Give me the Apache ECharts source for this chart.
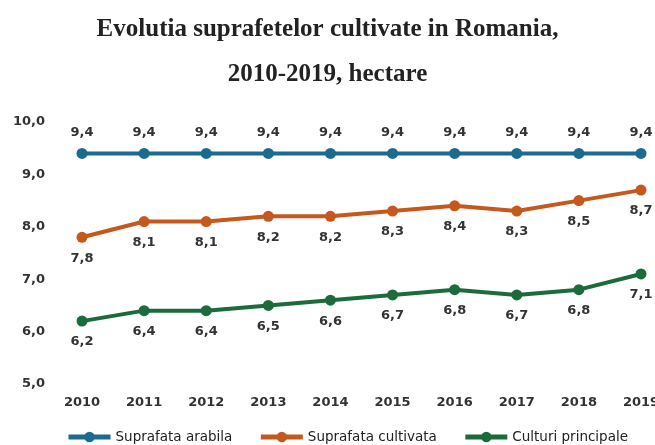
<!DOCTYPE html>
<html lang="ro">
<head>
<meta charset="UTF-8">
<title>Evolutia suprafetelor cultivate</title>
<script src="https://cdn.jsdelivr.net/npm/echarts@6/dist/echarts.min.js"></script>
<style>
  html, body { margin: 0; padding: 0; background: #fff; }
  #chart { width: 655px; height: 445px; }
</style>
</head>
<body>
<div id="chart"></div>
<script>
// date
var years = ['2010', '2011', '2012', '2013', '2014', '2015', '2016', '2017', '2018', '2019'];
var arabila = [9.4, 9.4, 9.4, 9.4, 9.4, 9.4, 9.4, 9.4, 9.4, 9.4];
var cultivata = [7.8, 8.1, 8.1, 8.2, 8.2, 8.3, 8.4, 8.3, 8.5, 8.7];
var principale = [6.2, 6.4, 6.4, 6.5, 6.6, 6.7, 6.8, 6.7, 6.8, 7.1];

function virgula(v) {
  return v.toFixed(1).replace('.', ',');
}

var labelFont = {
  fontFamily: 'DejaVu Sans',
  fontWeight: 'bold',
  fontSize: 13,
  color: '#333'
};

function serie(name, data, color, pos) {
  return {
    name: name,
    type: 'line',
    data: data,
    symbol: 'circle',
    symbolSize: 11,
    lineStyle: { width: 4, color: color },
    itemStyle: { color: color },
    label: Object.assign({
      show: true,
      position: pos,
      distance: 9,
      formatter: function (p) { return virgula(p.value); }
    }, labelFont)
  };
}

var chart = echarts.init(document.getElementById('chart'));
chart.setOption({
  animation: false,
  title: {
    text: 'Evolutia suprafetelor cultivate in Romania,\n2010-2019, hectare',
    left: 'center',
    top: 2,
    textStyle: {
      fontFamily: 'Liberation Serif',
      fontWeight: 'bold',
      fontSize: 25,
      lineHeight: 45,
      color: '#222'
    }
  },
  grid: { left: 82, right: 14, top: 122, bottom: 61, outerBoundsMode: 'none' },
  xAxis: {
    type: 'category',
    data: years,
    boundaryGap: false,
    axisLine: { show: false },
    axisTick: { show: false },
    axisLabel: Object.assign({ margin: 12 }, labelFont)
  },
  yAxis: {
    type: 'value',
    min: 5,
    max: 10,
    interval: 1,
    splitLine: { show: false },
    axisLine: { show: false },
    axisTick: { show: false },
    axisLabel: Object.assign({
      margin: 37,
      formatter: function (v) { return virgula(v); }
    }, labelFont)
  },
  legend: {
    bottom: -4,
    left: 61,
    itemWidth: 42,
    itemHeight: 13,
    itemGap: 26,
    lineStyle: { width: 5 },
    textStyle: { fontFamily: 'DejaVu Sans', fontSize: 13.5, color: '#222' },
    data: ['Suprafata arabila', 'Suprafata cultivata', 'Culturi principale']
  },
  series: [
    serie('Suprafata arabila', arabila, '#1a6b8f', 'top'),
    serie('Suprafata cultivata', cultivata, '#c5581c', 'bottom'),
    serie('Culturi principale', principale, '#1b6b3c', 'bottom')
  ]
});
</script>
</body>
</html>
